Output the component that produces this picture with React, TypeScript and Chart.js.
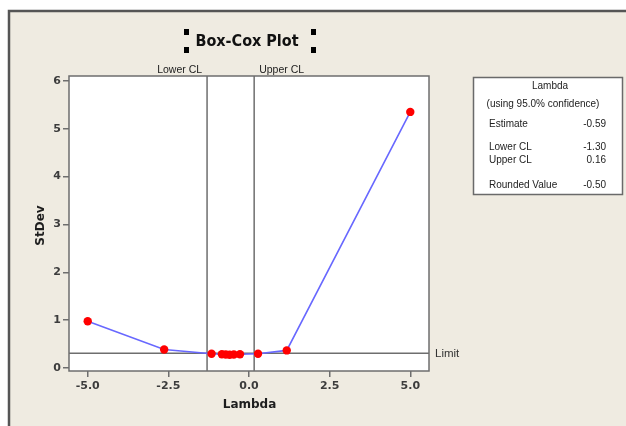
import React, { useEffect, useRef } from "react";
import { Chart, registerables } from "chart.js";

Chart.register(...registerables);

// Box-Cox evaluation: lambda values and the resulting standard deviations
const lambdas = [-5, -2.63, -1.16, -0.84, -0.72, -0.6, -0.47, -0.28, 0.28, 1.17, 5.0];
const stdevs = [0.98, 0.39, 0.3, 0.29, 0.285, 0.28, 0.285, 0.29, 0.3, 0.37, 5.35];

// Confidence interval bounds and the StDev limit line
const lowerCL = -1.3;
const upperCL = 0.16;
const limitValue = 0.31;

// Summary table
const summaryRows: [string, string][] = [
  ["Estimate", "-0.59"],
  ["Lower CL", "-1.30"],
  ["Upper CL", "0.16"],
  ["Rounded Value", "-0.50"],
];

const xTicks = [-5, -2.5, 0, 2.5, 5];
const yTicks = [0, 1, 2, 3, 4, 5, 6];

const FRAME_GRAY = "#6e6e6e";
const TEXT_GRAY = "#3c3c3c";

const decorPlugin = {
  id: "boxcoxDecor",
  beforeDraw(chart: any) {
    const { ctx, width, height, chartArea } = chart;
    ctx.save();
    ctx.fillStyle = "#ffffff";
    ctx.fillRect(0, 0, width, height);
    // panel background
    ctx.fillStyle = "#efebe1";
    ctx.fillRect(9, 11, width - 9, height - 11);
    // panel frame (top and left edges)
    ctx.strokeStyle = "#555555";
    ctx.lineWidth = 2.5;
    ctx.beginPath();
    ctx.moveTo(9, height);
    ctx.lineTo(9, 11);
    ctx.lineTo(width, 11);
    ctx.stroke();
    // plot area
    ctx.fillStyle = "#ffffff";
    ctx.fillRect(chartArea.left, chartArea.top, chartArea.right - chartArea.left, chartArea.bottom - chartArea.top);
    ctx.restore();
  },
  beforeDatasetsDraw(chart: any) {
    const { ctx, chartArea, scales } = chart;
    const xs = scales.x;
    const ys = scales.y;
    ctx.save();
    ctx.strokeStyle = FRAME_GRAY;
    ctx.lineWidth = 1.5;
    // CL verticals
    [lowerCL, upperCL].forEach((v) => {
      const px = xs.getPixelForValue(v);
      ctx.beginPath();
      ctx.moveTo(px, chartArea.top);
      ctx.lineTo(px, chartArea.bottom);
      ctx.stroke();
    });
    // limit horizontal
    const py = ys.getPixelForValue(limitValue);
    ctx.beginPath();
    ctx.moveTo(chartArea.left, py);
    ctx.lineTo(chartArea.right, py);
    ctx.stroke();
    ctx.restore();
  },
  afterDraw(chart: any) {
    const { ctx, chartArea, scales } = chart;
    const xs = scales.x;
    const ys = scales.y;
    ctx.save();

    // plot frame
    ctx.strokeStyle = FRAME_GRAY;
    ctx.lineWidth = 1.5;
    ctx.strokeRect(chartArea.left, chartArea.top, chartArea.right - chartArea.left, chartArea.bottom - chartArea.top);

    // title, fitted to its box width
    const titleText = "Box-Cox Plot";
    const titleFamily = '"Liberation Sans Narrow", "DejaVu Sans Condensed", sans-serif';
    ctx.font = `bold 16px ${titleFamily}`;
    const w16 = ctx.measureText(titleText).width;
    const size = Math.min(22, (16 * 103) / w16);
    ctx.font = `bold ${size.toFixed(1)}px ${titleFamily}`;
    ctx.fillStyle = "#111111";
    ctx.textAlign = "center";
    ctx.textBaseline = "middle";
    ctx.fillText(titleText, 247, 42);
    // selection handles around the title
    ctx.fillStyle = "#000000";
    [
      [184, 29],
      [184, 47],
      [311, 29],
      [311, 47],
    ].forEach(([hx, hy]) => ctx.fillRect(hx, hy, 5, 6));

    // CL labels above the plot
    ctx.font = '10.5px "Liberation Sans", Arial, sans-serif';
    ctx.fillStyle = "#222222";
    ctx.textBaseline = "middle";
    ctx.textAlign = "right";
    ctx.fillText("Lower CL", xs.getPixelForValue(lowerCL) - 5, 70);
    ctx.textAlign = "left";
    ctx.fillText("Upper CL", xs.getPixelForValue(upperCL) + 5, 70);

    // limit label
    ctx.font = '11.5px "Liberation Sans", Arial, sans-serif';
    ctx.fillStyle = "#333333";
    ctx.fillText("Limit", chartArea.right + 6, ys.getPixelForValue(limitValue) + 1);

    // axis titles
    ctx.font = 'bold 12px "DejaVu Sans", sans-serif';
    ctx.fillStyle = "#1e1e1e";
    ctx.textAlign = "center";
    ctx.fillText("Lambda", (chartArea.left + chartArea.right) / 2 + 0.5, 405);
    ctx.save();
    ctx.translate(41, (chartArea.top + chartArea.bottom) / 2 + 2);
    ctx.rotate(-Math.PI / 2);
    ctx.fillText("StDev", 0, 0);
    ctx.restore();

    // summary box
    const bx = 473.5;
    const by = 77.5;
    const bw = 149;
    const bh = 117;
    ctx.fillStyle = "#ffffff";
    ctx.fillRect(bx, by, bw, bh);
    ctx.strokeStyle = "#6a6a6a";
    ctx.lineWidth = 1.5;
    ctx.strokeRect(bx, by, bw, bh);
    ctx.font = '10px "Liberation Sans", Arial, sans-serif';
    ctx.fillStyle = "#222222";
    ctx.textAlign = "center";
    ctx.fillText("Lambda", bx + bw / 2 + 2, 86);
    ctx.fillText("(using 95.0% confidence)", bx + bw / 2 - 5, 104);
    const rowY = [124, 147, 160, 185];
    summaryRows.forEach(([label, val], i) => {
      ctx.textAlign = "left";
      ctx.fillText(label, 489, rowY[i]);
      ctx.textAlign = "right";
      ctx.fillText(val, 606, rowY[i]);
    });

    ctx.restore();
  },
};

export default function App() {
  const canvasRef = useRef<HTMLCanvasElement | null>(null);

  useEffect(() => {
    if (!canvasRef.current) return;
    const tickFont = { family: '"DejaVu Sans", sans-serif', size: 11, weight: "bold" as const };
    const chart = new Chart(canvasRef.current, {
      type: "scatter",
      data: {
        datasets: [
          {
            data: lambdas.map((x, i) => ({ x, y: stdevs[i] })),
            showLine: true,
            borderColor: "#6868ff",
            borderWidth: 1.6,
            pointBackgroundColor: "#ff0000",
            pointBorderColor: "#ff0000",
            pointBorderWidth: 0,
            pointRadius: 4.2,
            tension: 0,
          },
        ],
      },
      plugins: [decorPlugin],
      options: {
        responsive: false,
        animation: false,
        layout: { padding: { left: 20, top: 76, right: 197, bottom: 25 } },
        plugins: {
          legend: { display: false },
          tooltip: { enabled: false },
          title: { display: false },
        },
        scales: {
          x: {
            type: "linear",
            min: -5.58,
            max: 5.58,
            afterBuildTicks: (scale: any) => {
              scale.ticks = xTicks.map((value) => ({ value }));
            },
            afterFit: (scale: any) => {
              scale.height = 30;
            },
            ticks: {
              font: tickFont,
              color: TEXT_GRAY,
              padding: 3,
              maxRotation: 0,
              callback: (v: any) => Number(v).toFixed(1),
            },
            grid: {
              drawOnChartArea: false,
              drawTicks: true,
              tickLength: 6,
              color: FRAME_GRAY,
              lineWidth: 1.5,
            },
            border: { display: false },
          },
          y: {
            type: "linear",
            min: -0.06,
            max: 6.1,
            afterBuildTicks: (scale: any) => {
              scale.ticks = yTicks.map((value) => ({ value }));
            },
            afterFit: (scale: any) => {
              scale.width = 49;
            },
            ticks: {
              font: tickFont,
              color: TEXT_GRAY,
              padding: 2,
              callback: (v: any) => String(v),
            },
            grid: {
              drawOnChartArea: false,
              drawTicks: true,
              tickLength: 6,
              color: FRAME_GRAY,
              lineWidth: 1.5,
            },
            border: { display: false },
          },
        },
      },
    });
    return () => chart.destroy();
  }, []);

  return (
    <div style={{ position: "fixed", left: 0, top: 0, width: 626, height: 426 }}>
      <canvas ref={canvasRef} width={626} height={426} style={{ display: "block" }} />
    </div>
  );
}
